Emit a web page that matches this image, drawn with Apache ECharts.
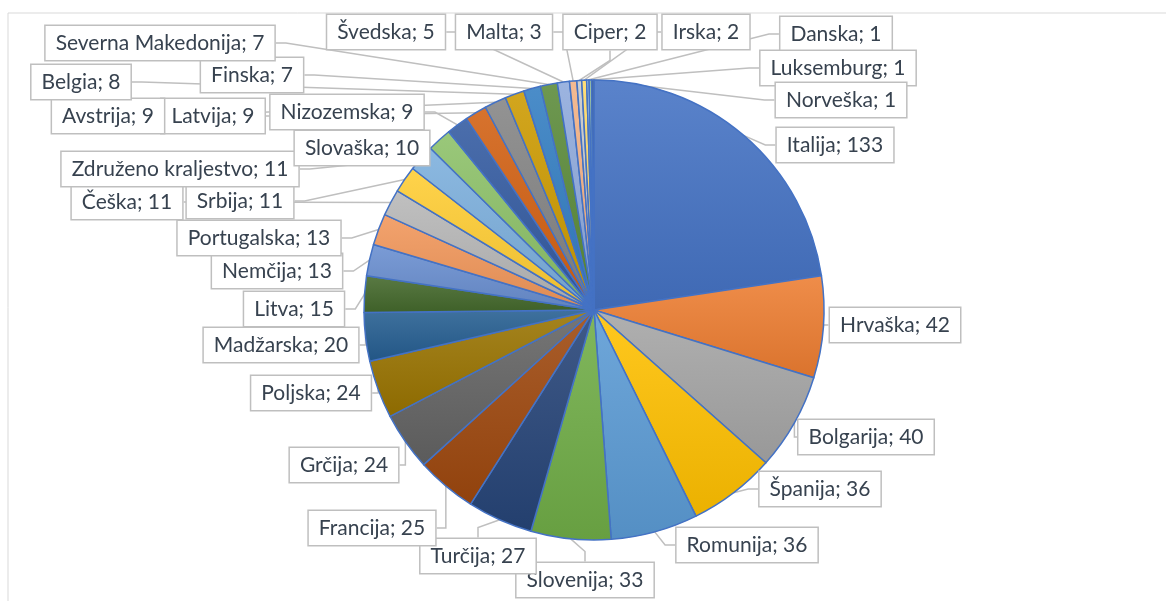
<!DOCTYPE html>
<html>
<head>
<meta charset="utf-8">
<title>Pie</title>
<script src="https://cdn.jsdelivr.net/npm/echarts@6/dist/echarts.min.js"></script>
<style>
  html, body { margin: 0; padding: 0; background: #fff; }
  #chart { width: 1166px; height: 601px; }
</style>
</head>
<body>
<div id="chart"></div>
<script>
// data, clockwise from 12 o'clock
var countries = ['Italija', 'Hrvaška', 'Bolgarija', 'Španija', 'Romunija', 'Slovenija', 'Turčija',
  'Francija', 'Grčija', 'Poljska', 'Madžarska', 'Litva', 'Nemčija', 'Portugalska', 'Češka',
  'Srbija', 'Združeno kraljestvo', 'Slovaška', 'Nizozemska', 'Latvija', 'Avstrija', 'Belgia',
  'Finska', 'Severna Makedonija', 'Švedska', 'Malta', 'Ciper', 'Irska', 'Danska', 'Luksemburg', 'Norveška']
var values = [133, 42, 40, 36, 36, 33, 27, 25, 24, 24, 20, 15, 13, 13, 11, 11, 11, 10, 9, 9, 9, 8,
  7, 7, 5, 3, 2, 2, 1, 1, 1]

// office palette
var colors = ['#4472C4', '#ED7D31', '#A5A5A5', '#FFC000', '#5B9BD5', '#70AD47',
  '#264478', '#9E480E', '#636363', '#997300', '#255E91', '#43682B',
  '#698ED0', '#F1975A', '#B7B7B7', '#FFCD33', '#7CAFDD', '#8CC168',
  '#335AA1', '#D26012', '#848484', '#CC9A00', '#327DC2', '#5A8A39',
  '#8FAADC', '#F4B183', '#C9C9C9', '#FFD966', '#9DC3E6', '#A9D18E', '#2F5597']

// where the callout boxes sit (box centre), same order as the data
var labelPos = [[835, 145], [895, 325], [866, 437], [820, 489], [747, 545], [585, 580], [478, 556],
  [372, 528], [344, 465], [311, 393], [281, 345], [294, 309], [277, 271], [259, 238], [127, 202],
  [240, 201], [180, 169], [362, 148], [347, 112], [213, 116], [108, 116], [81, 82], [252, 75],
  [160, 43], [386, 32], [504, 32], [610, 32], [706, 32], [836, 34], [838, 68], [841, 100]]

function shade(hex, amt) {
  var n = parseInt(hex.slice(1), 16)
  var r = n >> 16, g = (n >> 8) & 255, b = n & 255
  function f(c) {
    var v = amt > 0 ? c + (255 - c) * amt : c * (1 + amt)
    return Math.round(Math.max(0, Math.min(255, v)))
  }
  return 'rgb(' + f(r) + ',' + f(g) + ',' + f(b) + ')'
}

var pieData = countries.map(function(name, i) {
  return {
    name: name,
    value: values[i],
    itemStyle: {
      color: new echarts.graphic.LinearGradient(0, 0, 0, 1, [
        { offset: 0, color: shade(colors[i], 0.12) },
        { offset: 1, color: shade(colors[i], -0.08) }
      ])
    }
  }
})

var chart = echarts.init(document.getElementById('chart'))
chart.setOption({
  animation: false,
  graphic: [{
    type: 'rect',
    shape: { x: 8, y: 13, width: 1300, height: 800 },
    style: { fill: 'none', stroke: '#D9D9D9', lineWidth: 1 }
  }],
  series: [{
    type: 'pie',
    center: [594, 310],
    radius: 230,
    startAngle: 90,
    clockwise: true,
    avoidLabelOverlap: false,
    data: pieData,
    itemStyle: {
      borderColor: '#4472C4',
      borderWidth: 1.5
    },
    label: {
      show: true,
      position: 'outside',
      formatter: '{b}; {c}',
      fontFamily: 'Lato',
      fontSize: 21,
      color: '#37424F',
      backgroundColor: '#fff',
      borderColor: '#BFBFBF',
      borderWidth: 1.5,
      padding: [7, 10, 6, 10]
    },
    labelLine: {
      show: true,
      length: 10,
      length2: 10,
      lineStyle: { color: '#BFBFBF', width: 1.5 }
    },
    labelLayout: function(params) {
      var p = labelPos[params.dataIndex]
      return { x: p[0], y: p[1], align: 'center', verticalAlign: 'middle' }
    }
  }]
})
</script>
</body>
</html>
